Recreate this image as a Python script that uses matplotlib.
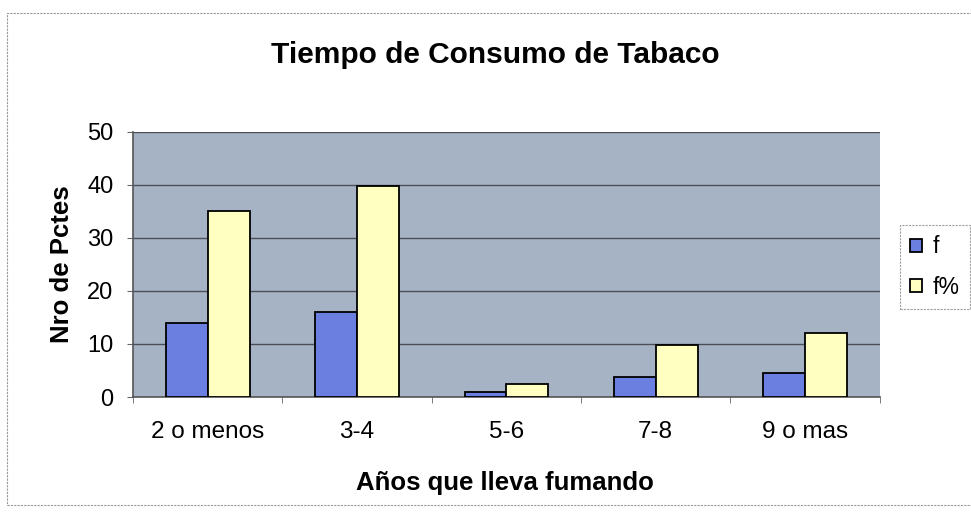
import numpy as np
import matplotlib.pyplot as plt
from matplotlib.patches import Rectangle

plt.rcParams['font.family'] = ['Liberation Sans', 'DejaVu Sans']

categorias = ['2 o menos', '3-4', '5-6', '7-8', '9 o mas']
f = [14, 16, 1, 3.8, 4.6]
f_pct = [35, 39.7, 2.4, 9.8, 12.1]

fig = plt.figure(figsize=(9.71, 5.21), dpi=100)
fig.patch.set_facecolor('white')

# marco del grafico (el borde derecho queda fuera de la imagen)
fig.add_artist(Rectangle((0.007, 0.03), 1.0, 0.945, transform=fig.transFigure,
                         fill=False, edgecolor='#9a9a9a', linewidth=0.8, linestyle=(0, (2, 1))))

ax = fig.add_axes([0.137, 0.238, 0.769, 0.509])
ax.set_facecolor('#a6b3c5')

x = np.arange(len(categorias))
w = 0.28
ax.bar(x - w / 2, f, w, color='#6b7fe0', edgecolor='black', linewidth=1.3, label='f', zorder=3)
ax.bar(x + w / 2, f_pct, w, color='#ffffc2', edgecolor='black', linewidth=1.3, label='f%', zorder=3)

ax.set_ylim(0, 50)
ax.set_yticks(range(0, 51, 10))
ax.set_xlim(-0.5, len(categorias) - 0.5)
ax.set_xticks(x)
ax.set_xticklabels(categorias, fontsize=17.5)
ax.set_xticks(np.arange(-0.5, len(categorias), 1), minor=True)
ax.tick_params(axis='x', which='major', length=0, pad=17)
ax.tick_params(axis='x', which='minor', length=4, color='#666666')
ax.tick_params(axis='y', labelsize=17, length=4, color='#666666', pad=10)
ax.yaxis.grid(True, color='#4a4f58', linewidth=1.0, zorder=1)

for s in ['top', 'right']:
    ax.spines[s].set_visible(False)
for s in ['left', 'bottom']:
    ax.spines[s].set_color('#555555')
    ax.spines[s].set_linewidth(1.2)

fig.text(0.064, 0.492, 'Nro de Pctes', rotation=90, ha='center', va='center',
         fontsize=18.5, fontweight='bold')
fig.text(0.52, 0.06, 'Años que lleva fumando', ha='center', va='baseline',
         fontsize=18.5, fontweight='bold')
fig.text(0.51, 0.879, 'Tiempo de Consumo de Tabaco', ha='center', va='baseline',
         fontsize=21.5, fontweight='bold')

leg = ax.legend(loc='center left', bbox_to_anchor=(0.927, 0.4875),
                bbox_transform=fig.transFigure, fontsize=16.5,
                frameon=True, fancybox=False, edgecolor='#888888',
                handlelength=0.5, handleheight=0.5, handletextpad=0.45,
                labelspacing=0.75, borderpad=0.45, borderaxespad=0)
leg.get_frame().set_linewidth(0.8)
leg.get_frame().set_linestyle((0, (2, 1)))

fig.savefig('out.png', dpi=100)
